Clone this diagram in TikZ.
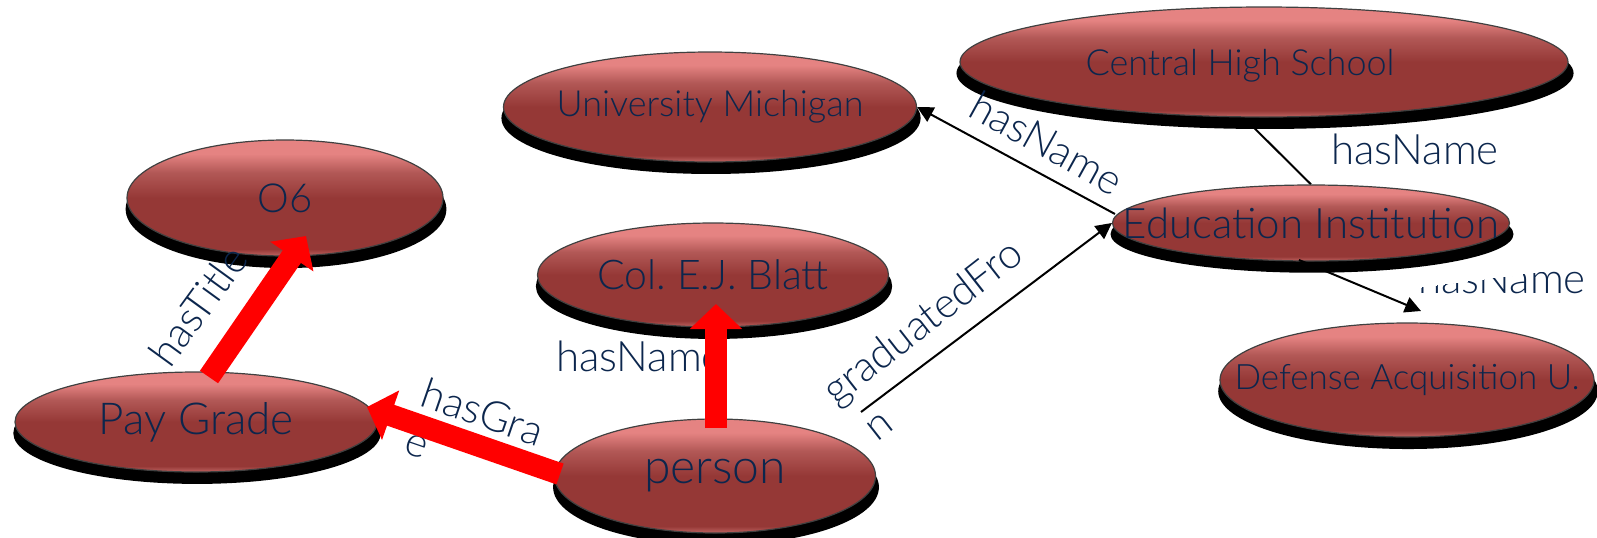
\documentclass[tikz,border=0pt]{standalone}
\usepackage{fontspec}
\setmainfont{Lato}[UprightFont=* Light]
\usetikzlibrary{shapes.geometric, arrows.meta, shadows, backgrounds}
\definecolor{conceptred}{HTML}{953836}
\definecolor{conceptmid}{HTML}{B25856}
\definecolor{conceptpink}{HTML}{E58382}
\definecolor{conceptrim}{HTML}{C06462}
\definecolor{labelblue}{HTML}{0C264D}
\pgfdeclareverticalshading{glossy}{100bp}{color(0bp)=(conceptrim); color(25bp)=(conceptrim); color(28bp)=(conceptred); color(50bp)=(conceptred); color(61bp)=(conceptmid); color(69bp)=(conceptpink); color(75bp)=(conceptpink); color(100bp)=(conceptpink)}
\newcommand*{\picW}{1597}
\newcommand*{\picH}{537}
\newcommand{\fsize}[1]{\fontsize{#1}{#1}\selectfont}
\frenchspacing

\begin{document}
\begin{tikzpicture}[x=0.5pt, y=-0.5pt,
	concept/.style={ellipse, draw=black!75, line width=0.6pt, shading=glossy, inner sep=0pt, drop shadow={shadow xshift=0.5pt, shadow yshift=-5.5pt, shadow scale=1.015, opacity=1, fill=black}},
	conceptname/.style={text=labelblue, inner sep=0pt},
	rel/.style={text=labelblue, font=\fsize{21}, inner sep=0pt},
	thinarrow/.style={draw=black, line width=1pt, -{Triangle[length=8pt, width=8pt]}},
	fatarrow/.style={draw=red, line width=11pt, -{Triangle[length=12.5pt, width=25.5pt]}}]
	\useasboundingbox (0,0) rectangle (\picW,\picH);
	
	% concepts
	\node[concept, minimum width=198.5pt, minimum height=38pt, label={[conceptname, font=\fsize{21}]center:Education Institution}] (edu) at (1311,223) {};
	\node[concept, minimum width=304pt, minimum height=55pt, label={[conceptname, font=\fsize{18}, xshift=-12pt, yshift=-2pt]center:Central High School}] (school) at (1264,62) {};
	\node[concept, minimum width=206.5pt, minimum height=55pt, label={[conceptname, font=\fsize{18}]center:University Michigan}] (univ) at (710,107) {};
	\node[concept, minimum width=158pt, minimum height=58pt, label={[conceptname, font=\fsize{20}]center:O6}] (o6) at (285,198) {};
	\node[concept, minimum width=175.5pt, minimum height=52pt, label={[conceptname, font=\fsize{20.5}]center:Col. E.J. Blatt}] (blatt) at (713,275) {};
	\node[concept, minimum width=181pt, minimum height=50pt, label={[conceptname, font=\fsize{22}]center:Pay Grade}] (paygrade) at (196,422) {};
	\node[concept, minimum width=160.5pt, minimum height=57pt, label={[conceptname, font=\fsize{24}]center:person}] (person) at (715,476) {};
	\node[concept, minimum width=187pt, minimum height=57pt, label={[conceptname, font=\fsize{17.5}]center:Defense Acquisition U.}] (dau) at (1407,380) {};
	
	% thin relations
	\begin{pgfonlayer}{background}
		\draw[thinarrow] (edu.north) -- ([shift={(-51,25)}]school.center);
	\end{pgfonlayer}
	\draw[thinarrow] ([shift={(-196,-9)}]edu.center) -- (univ.east);
	\draw[thinarrow] ([shift={(146,-64)}]person.center) -- (edu.west);
	\draw[thinarrow] ([shift={(-12,37)}]edu.center) -- ([shift={(14,-69)}]dau.center);
	
	% labels
	\node[rel, rotate=54] (hastitle) at (198,306) {hasTitle};
	\node[rel, rotate=-19] (hasgrade) at (483,412) {hasGra};
	\node[rel, rotate=-19] (hasgradeb) at (416,446) {e};
	\node[rel] (hasnameb) at (640,356) {hasName};
	\node[rel, rotate=38] (gradfrom) at (924,324) {graduatedFro};
	\node[rel, rotate=38] (gradfromb) at (880,427) {n};
	\node[rel, rotate=-29] (hasnameu) at (1047,143) {hasName};
	\node[rel] (hasnames) at (1415,149) {hasName};
	\begin{scope}
		\clip (1400,290) -- (1540,272) -- (\picW,266) -- (\picW,330) -- (1400,330) -- cycle;
		\node[rel, anchor=base] (hasnamed) at (1502,293) {hasName};
	\end{scope}
	
	% red relations
	\draw[fatarrow] ([shift={(13,-45)}]paygrade.center) -- ([shift={(21,38)}]o6.center);
	\draw[fatarrow] ([shift={(-155,-2)}]person.center) -- ([shift={(171,-15)}]paygrade.center);
	\draw[fatarrow] ([shift={(1,-48)}]person.center) -- ([shift={(3,29)}]blatt.center);
\end{tikzpicture}
\end{document}
